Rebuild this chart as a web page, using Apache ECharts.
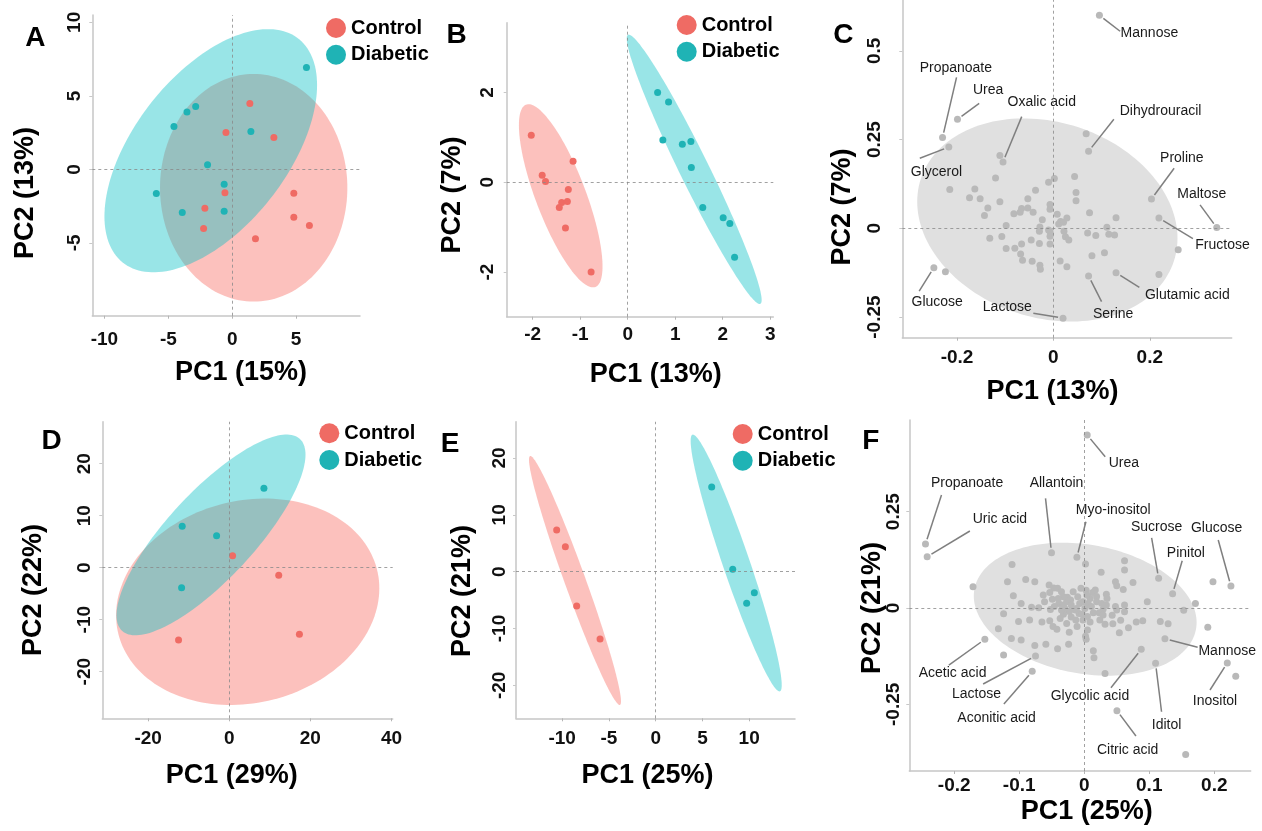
<!DOCTYPE html>
<html><head><meta charset="utf-8">
<script src="https://cdn.jsdelivr.net/npm/echarts@6/dist/echarts.min.js"></script>
<style>html,body{margin:0;padding:0;background:#fff}#c{width:1262px;height:831px}</style>
</head><body><div id="c"></div>
<script>
// ================= DATA =================
// Panel A scores (PC1, PC2)
const ticksA_x = [-10, -5, 0, 5];
const ticksA_y = [-5, 0, 5, 10];
const controlA = [[1.38,4.48],[-0.49,2.51],[3.26,2.17],[-0.57,-1.58],[4.82,-1.62],[-2.14,-2.64],[4.82,-3.25],[6.04,-3.82],[-2.24,-4.02],[1.82,-4.71]];
const diabeticA = [[5.81,6.93],[-2.86,4.27],[-3.54,3.91],[-4.56,2.91],[1.46,2.57],[-1.93,0.31],[-0.63,-1.01],[-5.94,-1.64],[-3.91,-2.94],[-0.63,-2.84]];
// ellipse: [centerX, centerY, halfRangeX, halfRangeY, correlation]
const ellipseA_control = [1.68, -1.25, 7.33, 7.74, 0.0];
const ellipseA_diabetic = [-1.68, 1.27, 8.32, 8.27, 0.54];

// Panel B
const ticksB_x = [-2, -1, 0, 1, 2, 3];
const ticksB_y = [-2, 0, 2];
const controlB = [[-2.03,1.05],[-1.15,0.47],[-1.80,0.16],[-1.73,0.02],[-1.25,-0.16],[-1.39,-0.45],[-1.27,-0.43],[-1.44,-0.56],[-1.31,-1.02],[-0.77,-2.00]];
const diabeticB = [[0.63,2.0],[0.86,1.79],[0.74,0.94],[1.15,0.85],[1.33,0.91],[1.34,0.33],[1.58,-0.56],[2.01,-0.79],[2.15,-0.92],[2.25,-1.67]];
const ellipseB_control = [-1.41, -0.30, 0.88, 2.04, -0.77];
const ellipseB_diabetic = [1.40, 0.29, 1.42, 3.0, -0.97];

// Panel C loadings
const ticksC_x = [-0.2, 0, 0.2];
const ticksC_y = [-0.25, 0, 0.25, 0.5];
const labeledC = [
  ['Mannose',0.0955,0.600],['Propanoate',-0.230,0.256],['Urea',-0.199,0.307],['Glycerol',-0.217,0.229],
  ['Oxalic acid',-0.1045,0.187],['Dihydrouracil',0.073,0.217],['Proline',0.2035,0.0826],['Maltose',0.339,0.002],
  ['Fructose',0.219,0.029],['Glucose',-0.248,-0.111],['Lactose',0.020,-0.253],['Serine',0.073,-0.134],['Glutamic acid',0.130,-0.125]
];
const otherC = [
  [0.068,0.266],[-0.111,0.205],[-0.120,0.142],[0.044,0.146],[-0.010,0.130],[0.002,0.140],[-0.215,0.109],[-0.163,0.111],
  [-0.037,0.107],[0.047,0.101],[-0.174,0.086],[-0.152,0.083],[-0.111,0.075],[-0.053,0.083],[0.047,0.078],[-0.136,0.057],
  [-0.066,0.056],[-0.053,0.057],[-0.007,0.067],[-0.007,0.054],[-0.143,0.036],[-0.082,0.041],[-0.069,0.045],[-0.042,0.045],
  [0.008,0.040],[0.075,0.044],[0.130,0.030],[0.028,0.029],[-0.023,0.024],[0.015,0.019],[0.011,0.012],[0.021,0.017],
  [-0.098,0.008],[-0.028,0.004],[-0.010,-0.005],[0.111,0.003],[-0.029,-0.008],[-0.007,-0.009],[0.022,-0.008],[0.071,-0.013],
  [0.088,-0.020],[0.115,-0.017],[0.127,-0.019],[-0.007,-0.022],[0.025,-0.024],[-0.132,-0.028],[-0.107,-0.023],[-0.046,-0.033],
  [-0.029,-0.043],[-0.007,-0.044],[0.032,-0.033],[-0.098,-0.057],[-0.080,-0.056],[-0.066,-0.044],[-0.068,-0.072],[0.080,-0.077],
  [0.106,-0.069],[0.259,-0.060],[-0.064,-0.090],[-0.044,-0.093],[-0.028,-0.104],[-0.027,-0.115],[0.014,-0.092],[0.028,-0.108],
  [-0.224,-0.122],[0.219,-0.130]
];
const ellipseC = [-0.0125, 0.0235, 0.270, 0.286, -0.18];

// Panel D
const ticksD_x = [-20, 0, 20, 40];
const ticksD_y = [-20, -10, 0, 10, 20];
const controlD = [[0.82,2.31],[12.2,-1.47],[17.3,-12.8],[-12.5,-13.9]];
const diabeticD = [[8.55,15.3],[-11.6,7.95],[-3.12,6.15],[-11.75,-3.85]];
const ellipseD_control = [4.55, -6.55, 32.45, 19.85, 0.13];
const ellipseD_diabetic = [-4.5, 6.3, 23.3, 19.3, 0.8];

// Panel E
const ticksE_x = [-10, -5, 0, 5, 10];
const ticksE_y = [-20, -10, 0, 10, 20];
const controlE = [[-10.59,7.33],[-9.66,4.40],[-8.45,-6.04],[-5.95,-11.85]];
const diabeticE = [[5.99,14.9],[8.24,0.41],[10.55,-3.70],[9.73,-5.57]];
const ellipseE_control = [-8.63, -1.55, 4.92, 21.9, -0.97];
const ellipseE_diabetic = [8.61, 1.53, 4.87, 22.6, -0.95];

// Panel F loadings
const ticksF_x = [-0.2, -0.1, 0, 0.1, 0.2];
const ticksF_y = [-0.25, 0, 0.25];
const labeledF = [
  ['Urea',0.0046,0.449],['Propanoate',-0.2441,0.1661],['Uric acid',-0.2415,0.1332],['Allantoin',-0.0503,0.1436],
  ['Myo-inositol',-0.0113,0.1315],['Sucrose',0.1144,0.0770],['Glucose',0.2256,0.0571],['Pinitol',0.1359,0.0372],
  ['Mannose',0.1241,-0.0796],['Inositol',0.2200,-0.1427],['Acetic acid',-0.1528,-0.0813],['Lactose',-0.0749,-0.1246],
  ['Aconitic acid',-0.0800,-0.1644],['Glycolic acid',0.0877,-0.1073],['Iditol',0.1097,-0.1436],['Citric acid',0.0503,-0.2664]
];
const otherF = [
  [-0.171,0.055],[-0.111,0.113],[-0.118,0.068],[-0.090,0.074],[-0.076,0.068],[-0.109,0.032],[-0.097,0.012],[-0.081,0.002],
  [-0.070,0.001],[-0.124,-0.015],[-0.101,-0.035],[-0.084,-0.031],[-0.065,-0.036],[-0.053,-0.033],[-0.132,-0.054],[-0.112,-0.079],
  [-0.097,-0.083],[-0.076,-0.097],[-0.059,-0.094],[-0.041,-0.106],[-0.024,-0.094],[-0.124,-0.122],[0.014,-0.111],[0.015,-0.129],
  [0.032,-0.170],[0.002,0.114],[0.062,0.123],[0.026,0.093],[0.062,0.099],[0.048,0.068],[0.075,0.066],[0.050,0.058],
  [0.034,0.036],[0.060,0.048],[0.097,0.016],[0.153,-0.006],[0.171,0.012],[0.190,-0.050],[0.117,-0.035],[0.129,-0.041],
  [0.080,-0.036],[0.090,-0.033],[0.068,-0.051],[0.056,-0.032],[0.054,-0.064],[0.044,-0.041],[0.032,-0.042],[-0.011,-0.048],
  [0.005,-0.057],[0.003,-0.081],[0.002,-0.073],[-0.023,-0.063],[-0.042,-0.055],[-0.048,-0.048],[-0.027,-0.040],[-0.063,0.034],
  [-0.054,0.060],[-0.047,0.052],[-0.041,0.051],[-0.053,0.040],[-0.026,0.028],[-0.017,0.042],[-0.005,0.051],[0.003,0.046],
  [0.013,0.040],[0.017,0.047],[0.019,0.030],[0.035,0.025],[0.062,0.008],[0.062,-0.010],[0.048,0.004],[0.043,-0.019],
  [0.029,-0.003],[0.023,-0.012],[0.014,-0.012],[0.005,-0.022],[-0.002,-0.031],[-0.008,-0.014],[-0.014,-0.005],[-0.023,-0.009],
  [-0.032,-0.016],[-0.037,-0.027],[-0.039,0.012],[-0.046,0.004],[-0.052,-0.004],[-0.032,0.008],[-0.027,0.016],[-0.021,0.021],
  [-0.010,0.029],[-0.007,0.012],[-0.002,0.016],[0.006,0.012],[0.011,0.004],[0.019,0.016],[0.027,0.012],[0.034,0.008],
  [0.050,-0.005],[-0.013,-0.031],[-0.020,-0.023],[-0.035,-0.005],[-0.030,-0.001],[-0.012,-0.001],[0.001,-0.001],[0.009,0.025],
  [0.004,0.034],[-0.020,0.008],[-0.003,-0.016],[0.009,-0.036],[0.024,-0.031],[0.029,-0.018],[-0.032,0.029],[-0.040,0.025],
  [-0.049,0.023],[-0.061,0.016],[-0.035,0.042],[0.156,-0.380],[0.233,-0.177],[0.198,0.068]
];
const ellipseF = [0.0015, -0.003, 0.1713, 0.1726, -0.2];

// ================= LAYOUT & STYLE (kept apart from data) =================
const FONT = '"Liberation Sans", Arial, Helvetica, sans-serif';
const RED = '#EF6B64', TEAL = '#1FB3B5', GRAYPT = '#b9b9b9';
const RED_FILL = 'rgba(248,118,109,0.45)', TEAL_FILL = 'rgba(0,191,196,0.40)', GRAY_FILL = '#e0e0e0';

const layout = [
  {grid:{left:92.3,top:15,width:267.7,height:300.7}, x:[-10.95,10.0], y:[-9.95,10.5], xm:15, ym:8, tx:ticksA_x, ty:ticksA_y},
  {grid:{left:506.7,top:22.7,width:266.6,height:294}, x:[-2.547,3.065], y:[-2.993,3.555], xm:9, ym:9, tx:ticksB_x, ty:ticksB_y},
  {grid:{left:902.3,top:0,width:329.4,height:337.7}, x:[-0.3135,0.370], y:[-0.308,0.643], xm:11, ym:18, tx:ticksC_x, ty:ticksC_y},
  {grid:{left:102.3,top:421.7,width:290.4,height:296.6}, x:[-31.3,40.3], y:[-28.96,28.08], xm:10.5, ym:8, tx:ticksD_x, ty:ticksD_y},
  {grid:{left:516,top:421.7,width:279,height:296.6}, x:[-14.94,14.90], y:[-25.8,26.39], xm:10.5, ym:6.5, tx:ticksE_x, ty:ticksE_y},
  {grid:{left:909.3,top:420,width:341.4,height:351}, x:[-0.269,0.256], y:[-0.423,0.488], xm:5, ym:6.5, tx:ticksF_x, ty:ticksF_y}
];

// label placement: name -> [textDx, textDy, lineEndDx, lineEndDy] in pixels
const labelPosC = {
  'Mannose':[50,18,20.7,16], 'Propanoate':[13.3,-69,14,-60], 'Urea':[30.6,-29.3,21.7,-16], 'Glycerol':[-12.3,24.7,-29,11.3],
  'Oxalic acid':[38.7,-59.7,18.7,-45.3], 'Dihydrouracil':[72,-40.3,25.3,-32], 'Proline':[30.4,-40.7,22.7,-30.7],
  'Maltose':[-15,-33.4,-16.7,-22.7], 'Fructose':[63.6,27.3,34,20.7], 'Glucose':[3.3,34.6,-14.7,23.3],
  'Lactose':[-55.7,-11,-29.7,-5], 'Serine':[24.6,38,13,25.7], 'Glutamic acid':[71.3,22.3,23.3,14.6]
};
const labelPosF = {
  'Urea':[36.7,28.3,18,21.7], 'Propanoate':[41.6,-60.7,16,-49], 'Uric acid':[72.7,-37.4,42.7,-25.7],
  'Allantoin':[5,-70,-6,-54.4], 'Myo-inositol':[36.3,-47.3,9,-35.6], 'Sucrose':[-2,-51,-7,-40.6],
  'Glucose':[-14.3,-57.7,-12.7,-46], 'Pinitol':[13.3,-41,9.6,-33], 'Mannose':[62.3,12,32.7,8.6],
  'Inositol':[-12.3,37.7,-17.3,27], 'Acetic acid':[-32.3,34,-36,25.7], 'Lactose':[-59,38.3,-52.4,28],
  'Aconitic acid':[-35.6,47,-28.3,32.7], 'Glycolic acid':[-51.3,46.7,-30.3,38.4], 'Iditol':[11,61.7,6,48.4],
  'Citric acid':[10.7,39.3,19,25.3]
};

// ================= BUILD =================
const fmt = v => String(+(+v).toFixed(3));
function mkX(i, L) {
  return {type:'value', gridIndex:i, min:L.x[0], max:L.x[1],
    axisLine:{show:true, onZero:false, lineStyle:{color:'#c6c6c6', width:1.5}},
    axisTick:{show:true, length:3, customValues:L.tx, lineStyle:{color:'#b5b5b5', width:1}},
    axisLabel:{show:true, customValues:L.tx, margin:L.xm, color:'#111', fontSize:19, fontWeight:'bold', fontFamily:FONT, formatter:fmt},
    splitLine:{show:false}};
}
function mkY(i, L) {
  return {type:'value', gridIndex:i, min:L.y[0], max:L.y[1],
    axisLine:{show:true, onZero:false, lineStyle:{color:'#c6c6c6', width:1.5}},
    axisTick:{show:true, length:3, customValues:L.ty, lineStyle:{color:'#c8c8c8', width:1}},
    axisLabel:{show:true, customValues:L.ty, rotate:90, margin:L.ym, color:'#111', fontSize:19, fontWeight:'bold', fontFamily:FONT, formatter:fmt},
    splitLine:{show:false}};
}
function ellipseSeries(i, params, fill) {
  return {type:'custom', xAxisIndex:i, yAxisIndex:i, z:1, silent:true, clip:false,
    data:[params],
    renderItem:function(p, api){
      const cx=api.value(0), cy=api.value(1), rx=api.value(2), ry=api.value(3), rho=api.value(4);
      const s=Math.sqrt(1-rho*rho), pts=[];
      for (let k=0;k<160;k++){ const t=k/160*2*Math.PI;
        pts.push(api.coord([cx+rx*Math.cos(t), cy+ry*(rho*Math.cos(t)+s*Math.sin(t))])); }
      return {type:'polygon', shape:{points:pts}, style:{fill:fill}};
    }};
}
const zeroLines = {silent:true, symbol:['none','none'], label:{show:false},
  lineStyle:{type:[3,3], color:'#8a8a8a', width:0.8}, emphasis:{disabled:true},
  data:[{xAxis:0},{yAxis:0}]};
function groupSeries(i, name, data, color, withLines) {
  const s = {type:'scatter', name:name, xAxisIndex:i, yAxisIndex:i, z:3, data:data, symbolSize:7,
    itemStyle:{color:color, opacity:1}, emphasis:{disabled:true}};
  if (withLines) s.markLine = zeroLines;
  return s;
}
function loadingPoints(i, data) {
  return {type:'scatter', xAxisIndex:i, yAxisIndex:i, z:3, data:data, symbolSize:7,
    itemStyle:{color:GRAYPT, opacity:1}, emphasis:{disabled:true}, markLine:zeroLines};
}
function labelSeries(i, labeled, pos) {
  return {type:'custom', xAxisIndex:i, yAxisIndex:i, z:4, silent:true, clip:false,
    data: labeled.map(d=>[d[1], d[2]]),
    renderItem:function(p, api){
      const name = labeled[p.dataIndex][0];
      const o = pos[name];
      const c = api.coord([api.value(0), api.value(1)]);
      const len = Math.hypot(o[2], o[3]), g = 5;
      return {type:'group', children:[
        {type:'line', shape:{x1:c[0]+o[2]*g/len, y1:c[1]+o[3]*g/len, x2:c[0]+o[2], y2:c[1]+o[3]},
          style:{stroke:'#7f7f7f', lineWidth:1.5}},
        {type:'text', x:c[0]+o[0], y:c[1]+o[1],
          style:{text:name, fill:'#1a1a1a', font:'14px '+FONT, align:'center', verticalAlign:'middle'}}
      ]};
    }};
}

const series = [
  ellipseSeries(0, ellipseA_control, RED_FILL), ellipseSeries(0, ellipseA_diabetic, TEAL_FILL),
  groupSeries(0,'Control',controlA,RED,true), groupSeries(0,'Diabetic',diabeticA,TEAL,false),
  ellipseSeries(1, ellipseB_control, RED_FILL), ellipseSeries(1, ellipseB_diabetic, TEAL_FILL),
  groupSeries(1,'Control',controlB,RED,true), groupSeries(1,'Diabetic',diabeticB,TEAL,false),
  ellipseSeries(2, ellipseC, GRAY_FILL),
  loadingPoints(2, otherC.concat(labeledC.map(d=>[d[1],d[2]]))),
  labelSeries(2, labeledC, labelPosC),
  ellipseSeries(3, ellipseD_control, RED_FILL), ellipseSeries(3, ellipseD_diabetic, TEAL_FILL),
  groupSeries(3,'Control',controlD,RED,true), groupSeries(3,'Diabetic',diabeticD,TEAL,false),
  ellipseSeries(4, ellipseE_control, RED_FILL), ellipseSeries(4, ellipseE_diabetic, TEAL_FILL),
  groupSeries(4,'Control',controlE,RED,true), groupSeries(4,'Diabetic',diabeticE,TEAL,false),
  ellipseSeries(5, ellipseF, GRAY_FILL),
  loadingPoints(5, otherF.concat(labeledF.map(d=>[d[1],d[2]]))),
  labelSeries(5, labeledF, labelPosF)
];

function mkLegend(left, top) {
  return {left:left, top:top, orient:'vertical', padding:0, itemGap:6.7, itemWidth:20, itemHeight:20, icon:'circle',
    selectedMode:false, data:['Control','Diabetic'],
    textStyle:{fontSize:20, fontWeight:'bold', color:'#000', fontFamily:FONT}};
}
function txt(x, y, text, size, rot) {
  return {type:'text', x:x, y:y, rotation:rot||0, silent:true,
    style:{text:text, font:'bold '+size+'px '+FONT, fill:'#000', align:'center', verticalAlign:'middle'}};
}
const R = Math.PI/2;
const graphic = [
  txt(35.3,38.3,'A',28), txt(456.7,35,'B',28), txt(843.3,35,'C',28),
  txt(51.7,441.7,'D',28), txt(450,444,'E',28), txt(870.8,441.7,'F',28),
  txt(26,193,'PC2 (13%)',27,R), txt(241,373,'PC1 (15%)',27),
  txt(452.5,195,'PC2 (7%)',27,R), txt(655.8,375,'PC1 (13%)',27),
  txt(842.5,207,'PC2 (7%)',27,R), txt(1052.5,392,'PC1 (13%)',27),
  txt(34,590,'PC2 (22%)',27,R), txt(231.7,776,'PC1 (29%)',27),
  txt(462.5,591,'PC2 (21%)',27,R), txt(647.5,776,'PC1 (25%)',27),
  txt(872.5,608,'PC2 (21%)',27,R), txt(1086.7,811.7,'PC1 (25%)',27)
];

const chart = echarts.init(document.getElementById('c'), null, {renderer:'canvas', width:1262, height:831});
chart.setOption({
  animation:false,
  backgroundColor:'#ffffff',
  grid: layout.map(L => Object.assign({containLabel:false, outerBoundsMode:'none', show:false}, L.grid)),
  xAxis: layout.map((L,i) => mkX(i, L)),
  yAxis: layout.map((L,i) => mkY(i, L)),
  legend: [mkLegend(326,18), mkLegend(676.7,15), mkLegend(319.3,423.3), mkLegend(732.7,424)],
  graphic: graphic,
  series: series
});
</script>
</body></html>
